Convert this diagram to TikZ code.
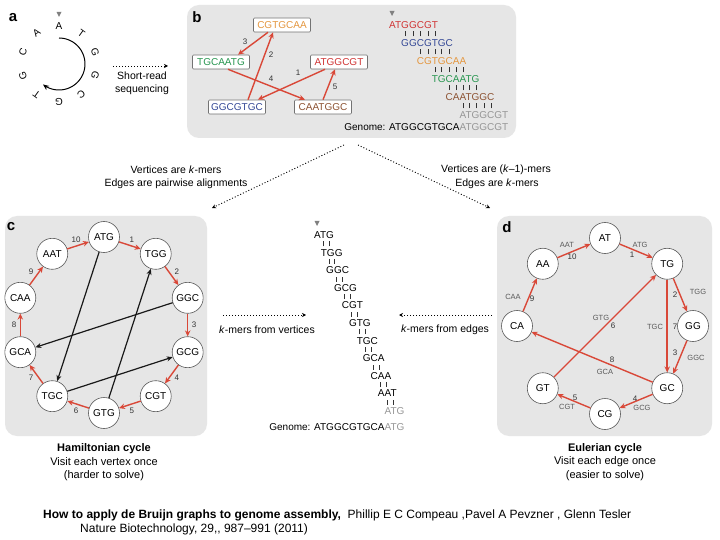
\documentclass[tikz,border=0pt]{standalone}
\usepackage{fontspec}
\setmainfont{Liberation Sans}
\usetikzlibrary{arrows.meta,calc}
\definecolor{myred}{RGB}{217,72,56}
\definecolor{panelgray}{RGB}{230,230,230}
\definecolor{korange}{RGB}{228,150,62}
\definecolor{kgreen}{RGB}{40,150,80}
\definecolor{kblue}{RGB}{52,72,150}
\definecolor{kbrown}{RGB}{140,82,50}
\definecolor{kred}{RGB}{208,52,52}
\definecolor{kgray}{RGB}{150,150,150}
\newcommand\bc[1]{\makebox[\fontcharwd\font`#1][c]{\rule{0.6pt}{5pt}}}
\begin{document}
\begin{tikzpicture}[x=1pt,y=-1pt,
  panel/.style={fill=panelgray, rounded corners=12pt},
  plab/.style={font=\fontsize{15}{18}\selectfont\bfseries, inner sep=0},
  txt/.style={font=\fontsize{10.5}{12}\selectfont, inner sep=0, align=center},
  captxt/.style={font=\fontsize{11}{13}\selectfont, inner sep=0},
  seq/.style={font=\fontsize{10}{12}\selectfont, inner sep=0, anchor=west},
  kbox/.style={draw=black!55, fill=white, line width=0.6pt, rounded corners=1pt, minimum width=57pt, minimum height=14pt, inner sep=0, font=\fontsize{10}{12}\selectfont},
  vtx/.style={circle, draw=black!65, fill=white, line width=0.6pt, minimum size=31pt, inner sep=0, font=\fontsize{10}{12}\selectfont},
  redarr/.style={draw=myred, line width=1.4pt, -{Stealth[length=6pt,width=5.5pt]}},
  blkarr/.style={draw=black!90, line width=1.2pt, -{Stealth[length=6pt,width=5pt]}},
  num/.style={font=\fontsize{8}{9}\selectfont, text=black!80, inner sep=0},
  klab/.style={font=\fontsize{7.5}{9}\selectfont, text=black!65, inner sep=0},
  dotarr/.style={line width=0.9pt, dash pattern=on 1pt off 2pt, -{Stealth[length=4pt,width=4pt]}},
  tri/.style={fill=black!50}
]
\useasboundingbox (0,0) rectangle (720,540);
\fill[white] (0,0) rectangle (720,540);

% ---------- panel a ----------
\node[plab] (la) at (13,18) {a};
\fill[tri] (56.5,12) -- ++(5,0) -- ++(-2.5,5) -- cycle;
\foreach \L/\a [count=\i] in {A/90,T/54,G/18,G/-18,C/-54,G/-90,T/-126,G/-162,C/162,A/126}
  \node[font=\fontsize{10}{12}\selectfont, inner sep=0, rotate=\a-90] (a\i) at ({59+38*cos(\a)},{64-38*sin(\a)}) {\L};
\draw[line width=1pt, -{Stealth[length=6pt,width=5pt]}] plot[smooth, domain=0:218, samples=40] ({59+26*cos(90-\x)},{64-26*sin(90-\x)});
\coordinate (sr1) at (113,66);
\coordinate (sr2) at (168,66);
\draw[dotarr] (sr1) -- (sr2);
\node[txt] (srt) at (142,83) {Short-read\\[1pt]sequencing};

% ---------- panel b ----------
\fill[panel] (187,5) rectangle (516,138);
\node[plab] (lb) at (197,17) {b};
\node[kbox, text=korange] (bCGT) at (282,25) {CGTGCAA};
\node[kbox, text=kgreen] (bTGC) at (221,62) {TGCAATG};
\node[kbox, text=kred] (bATG) at (339,62) {ATGGCGT};
\node[kbox, text=kblue] (bGGC) at (237,107) {GGCGTGC};
\node[kbox, text=kbrown] (bCAA) at (323,107) {CAATGGC};
\draw[redarr] ([xshift=-14pt]bATG.south) -- ([xshift=-8pt]bGGC.north east);
\draw[redarr] ([xshift=11pt]bGGC.north) -- ([xshift=-9pt]bCGT.south);
\draw[redarr] ([xshift=-14pt]bCGT.south) -- ([xshift=17pt]bTGC.north);
\draw[redarr] ([xshift=7pt]bTGC.south) -- ([xshift=-18pt]bCAA.north);
\draw[redarr] ([xshift=0pt]bCAA.north) -- ([xshift=-4pt]bATG.south);
\node[num] (bn1) at (298,73) {1};
\node[num] (bn2) at (271,55) {2};
\node[num] (bn3) at (245,42) {3};
\node[num] (bn4) at (271,79) {4};
\node[num] (bn5) at (335,87) {5};
% alignment
\fill[tri] (389.5,11) -- ++(5,0) -- ++(-2.5,5) -- cycle;
\node[seq, text=kred] (br0) at (389,25) {ATGGCGT};
\node[seq, text=kblue] (br1) at (389,43) {\hphantom{AT}GGCGTGC};
\node[seq, text=korange] (br2) at (389,61) {\hphantom{ATGG}CGTGCAA};
\node[seq, text=kgreen] (br3) at (389,79) {\hphantom{ATGGCG}TGCAATG};
\node[seq, text=kbrown] (br4) at (389,97) {\hphantom{ATGGCGTG}CAATGGC};
\node[seq, text=kgray] (br5) at (389,115) {\hphantom{ATGGCGTGCA}ATGGCGT};
\node[seq, text=black!80] (bb0) at (389,34) {\hphantom{AT}\bc G\bc G\bc C\bc G\bc T};
\node[seq, text=black!80] (bb1) at (389,52) {\hphantom{ATGG}\bc C\bc G\bc T\bc G\bc C};
\node[seq, text=black!80] (bb2) at (389,70) {\hphantom{ATGGCG}\bc T\bc G\bc C\bc A\bc A};
\node[seq, text=black!80] (bb3) at (389,88) {\hphantom{ATGGCGTG}\bc C\bc A\bc A\bc T\bc G};
\node[seq, text=black!80] (bb4) at (389,106) {\hphantom{ATGGCGTGCA}\bc A\bc T\bc G\bc G\bc C};
\node[seq] (bgen) at (389,127) {\llap{Genome: }ATGGCGTGCA\textcolor{kgray}{ATGGCGT}};

% ---------- connectors between rows ----------
\coordinate (tl0) at (344,145);
\coordinate (tl1) at (212,208);
\coordinate (tr0) at (358,145);
\coordinate (tr1) at (490,208);
\draw[dotarr] (tl0) -- (tl1);
\draw[dotarr] (tr0) -- (tr1);
\node[txt] (vl1) at (176,170) {Vertices are \textit{k}-mers};
\node[txt] (vl2) at (176,184) {Edges are pairwise alignments};
\node[txt] (vr1) at (496,170) {Vertices are (\textit{k}--1)-mers};
\node[txt] (vr2) at (497,184) {Edges are \textit{k}-mers};

% ---------- panel c ----------
\fill[panel] (5,216) rectangle (207,436);
\node[plab] (lc) at (11,227) {c};
\foreach \t [count=\i from 0] in {ATG,TGG,GGC,GCG,CGT,GTG,TGC,GCA,CAA,AAT}
  \node[vtx] (c\t) at ({104+88*cos(90-36*\i)},{325-88*sin(90-36*\i)}) {\t};
\draw[redarr] (cATG) -- (cTGG);
\draw[redarr] (cTGG) -- (cGGC);
\draw[redarr] (cGGC) -- (cGCG);
\draw[redarr] (cGCG) -- (cCGT);
\draw[redarr] (cCGT) -- (cGTG);
\draw[redarr] (cGTG) -- (cTGC);
\draw[redarr] (cTGC) -- (cGCA);
\draw[redarr] (cGCA) -- (cCAA);
\draw[redarr] (cCAA) -- (cAAT);
\draw[redarr] (cAAT) -- (cATG);
\foreach \k in {1,...,10}
  \node[num] (cl\k) at ({104+90*cos(72-36*(\k-1))},{325-90*sin(72-36*(\k-1))}) {\k};
\draw[blkarr] (cATG) -- (cTGC);
\draw[blkarr] (cGTG) -- (cTGG);
\draw[blkarr] (cGGC) -- (cGCA);
\draw[blkarr] (cTGC) -- (cGCG);
\node[captxt, font=\fontsize{11}{13}\selectfont\bfseries] (hc1) at (104,449) {Hamiltonian cycle};
\node[captxt] (hc2) at (104,462) {Visit each vertex once};
\node[captxt] (hc3) at (104,476) {(harder to solve)};

% ---------- middle ----------
\fill[tri] (314.5,221) -- ++(5,0) -- ++(-2.5,5) -- cycle;
\foreach \pre/\km [count=\i from 0] in {{}/ATG, A/TGG, AT/GGC, ATG/GCG, ATGG/CGT, ATGGC/GTG, ATGGCG/TGC, ATGGCGT/GCA, ATGGCGTG/CAA, ATGGCGTGC/AAT}
  \node[seq] (m\i) at (314,{235+17.6*\i}) {\hphantom{\pre}\km};
\node[seq, text=kgray] (m10) at (314,411) {\hphantom{ATGGCGTGCA}ATG};
\foreach \pre/\p/\q [count=\i from 0] in {A/T/G, AT/G/G, ATG/G/C, ATGG/C/G, ATGGC/G/T, ATGGCG/T/G, ATGGCGT/G/C, ATGGCGTG/C/A, ATGGCGTGC/A/A, ATGGCGTGCA/A/T}
  \node[seq, text=black!80] (mb\i) at (314,{243.8+17.6*\i}) {\hphantom{\pre}\bc\p\bc\q};
\node[seq] (mgen) at (314,427) {\llap{Genome: }ATGGCGTGCA\textcolor{kgray}{ATG}};
\coordinate (ml0) at (223,315);
\coordinate (ml1) at (306,315);
\draw[dotarr] (ml0) -- (ml1);
\node[txt] (mlt) at (267,330) {\textit{k}-mers from vertices};
\coordinate (mr0) at (492,315);
\coordinate (mr1) at (399,315);
\draw[dotarr] (mr0) -- (mr1);
\node[txt] (mrt) at (445,330) {\textit{k}-mers from edges};

% ---------- panel d ----------
\fill[panel] (497,216) rectangle (712,436);
\node[plab] (ld) at (507,227) {d};
\foreach \t [count=\i from 0] in {AT,TG,GG,GC,CG,GT,CA,AA}
  \node[vtx] (d\t) at ({605+88*cos(90-45*\i)},{326-88*sin(90-45*\i)}) {\t};
\draw[redarr] (dAA) -- (dAT);
\draw[redarr] (dAT) -- (dTG);
\draw[redarr] (dTG) -- (dGG);
\draw[redarr] (dGG) -- (dGC);
\draw[redarr] (dGC) -- (dCG);
\draw[redarr] (dCG) -- (dGT);
\draw[redarr] (dGT) -- (dTG);
\draw[redarr, line width=2pt] (dTG) -- (dGC);
\draw[redarr] (dGC) -- (dCA);
\draw[redarr] (dCA) -- (dAA);
\node[klab] (dk10) at (567,245) {AAT};
\node[num] (dn10) at (572,257) {10};
\node[klab] (dk1) at (640,245) {ATG};
\node[num] (dn1) at (632,255) {1};
\node[klab] (dk2) at (698,292) {TGG};
\node[num] (dn2) at (675,295) {2};
\node[num] (dn3) at (675,353) {3};
\node[klab] (dk3) at (696,358) {GGC};
\node[num] (dn4) at (635,399) {4};
\node[klab] (dk4) at (642,408) {GCG};
\node[num] (dn5) at (575,398) {5};
\node[klab] (dk5) at (567,407) {CGT};
\node[klab] (dk6) at (601,318) {GTG};
\node[num] (dn6) at (613,326) {6};
\node[klab] (dk7) at (655,327) {TGC};
\node[num] (dn7) at (675,327) {7};
\node[num] (dn8) at (612,360) {8};
\node[klab] (dk8) at (605,372) {GCA};
\node[klab] (dk9) at (513,297) {CAA};
\node[num] (dn9) at (532,299) {9};
\node[captxt, font=\fontsize{11}{13}\selectfont\bfseries] (ec1) at (605,449) {Eulerian cycle};
\node[captxt] (ec2) at (605,462) {Visit each edge once};
\node[captxt] (ec3) at (605,476) {(easier to solve)};

% ---------- reference ----------
\node[anchor=west, inner sep=0, font=\fontsize{12}{14}\selectfont] (ref1) at (43,515) {\textbf{How to apply de Bruijn graphs to genome assembly,}\ \ Phillip E C Compeau ,Pavel A Pevzner , Glenn Tesler};
\node[anchor=west, inner sep=0, font=\fontsize{12}{14}\selectfont] (ref2) at (80,529) {Nature Biotechnology, 29,{},{} 987--991 (2011)};
\end{tikzpicture}
\end{document}
